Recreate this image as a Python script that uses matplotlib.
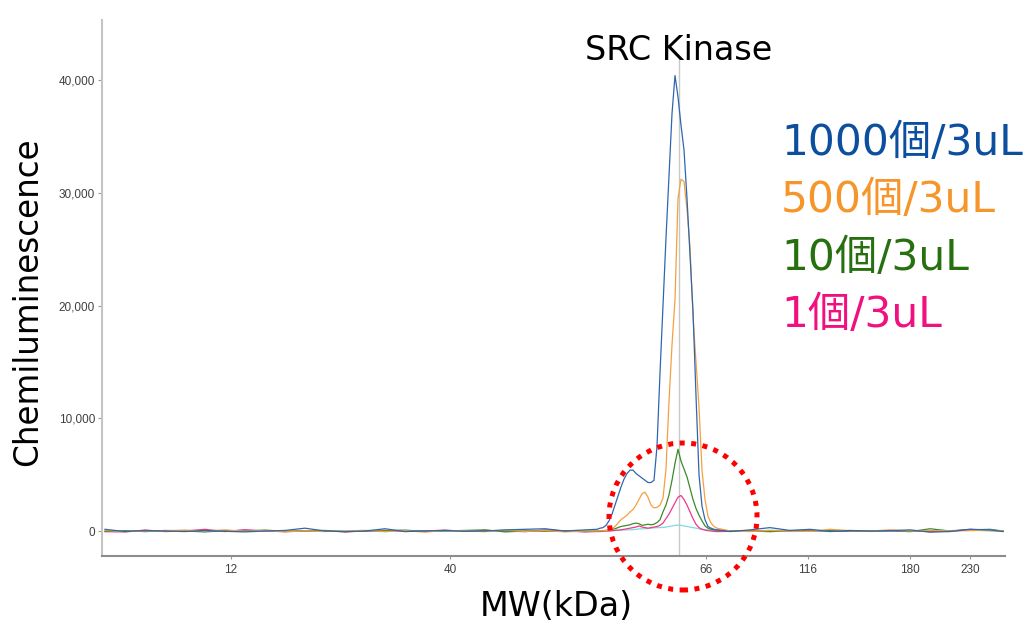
import matplotlib
matplotlib.use("Agg")
import matplotlib.pyplot as plt
from matplotlib.patches import Ellipse

# ---------------- data ----------------
# migration position (arbitrary lane units)
x_left = [105, 125, 145, 165, 185, 205, 225, 245, 265, 285, 305, 325, 345,
          365, 385, 405, 425, 445, 465, 485, 505, 525, 545, 565, 585]
x_peak = [597, 600, 603, 606, 609, 612, 615, 618, 621, 624, 627, 630, 633,
          636, 639, 642, 645, 648, 651, 654, 657, 660, 663, 666, 669, 672,
          675, 678, 681, 684, 687, 690, 693, 696, 699, 702, 705, 708, 711,
          714, 717]
x_right = [730, 750, 770, 790, 810, 830, 850, 870, 890, 910, 930, 950, 970,
           990, 1003]

blue_left = [150, -50, 50, 0, -50, 50, -30, -80, 0, 50, 250, 0, -60, 0, 200,
             -50, 0, 50, -30, 0, 100, 150, 200, 0, 100]
blue_peak = [150, 250, 300, 500, 900, 1500, 2300, 3100, 3900, 4600, 5100,
             5400, 5400, 5100, 4900, 4700, 4500, 4300, 4300, 4500, 7500,
             14000, 20000, 26000, 31500, 37000, 40400, 38500, 36000, 33800,
             29500, 24500, 19500, 12000, 5000, 2200, 1000, 400, 250, 150, 100]
blue_right = [-50, 100, 300, 50, 150, -50, 50, 0, 30, 100, -100, -50, 150,
              100, -50]

orange_left = [50, -50, 0, 30, 80, 0, 100, -30, 50, -80, 20, -30, 0, 60, -50,
               30, -100, 50, 0, -60, 80, -40, 30, -80, 0]
orange_peak = [0, 20, 30, 50, 100, 200, 400, 700, 1000, 1200, 1400, 1700,
               1900, 2300, 2800, 3300, 3450, 3000, 2300, 2050, 2100, 2300,
               2900, 5500, 11500, 16500, 20500, 29500, 31200, 31000, 28500,
               25200, 19000, 15000, 11000, 5400, 2800, 1300, 700, 400, 250]
orange_right = [0, -50, 50, 0, -30, 150, 30, 0, 100, 0, 50, 0, 30, 80, 0]

green_left = [-30, 20, -50, 50, 0, -80, 30, 0, 80, -30, 20, 50, -50, 0, 30,
              80, -40, 0, 50, 100, -80, 0, -30, 20, -50]
green_peak = [0, 0, 20, 50, 100, 150, 200, 300, 400, 450, 500, 550, 650, 700,
              650, 500, 550, 600, 550, 600, 750, 1000, 1700, 2300, 3200, 4500,
              6000, 7250, 6200, 5500, 4800, 3800, 2800, 2000, 1400, 900, 450,
              250, 150, 100, 80]
green_right = [30, 0, -60, 40, 0, 30, 0, -40, 50, -60, 200, 0, 100, 150, 0]

pink_left = [-60, -80, 80, -50, 0, 150, -50, 120, 0, -60, 0, 30, -80, 0, 50,
             -40, 0, 80, -30, 50, 0, -60, 100, 0, -80]
pink_peak = [-50, -50, -30, 0, 0, 20, 50, 80, 100, 150, 200, 250, 300, 350,
             450, 350, 300, 250, 300, 350, 400, 500, 700, 1100, 1500, 2000,
             2500, 3000, 3150, 2800, 2300, 1700, 1100, 600, 300, 150, 80, 30,
             0, -30, -50]
pink_right = [-30, 0, 20, 0, 50, 0, -30, 20, 0, 0, -50, 0, 150, 50, 0]

cyan_left = [0, 30, -50, 0, 40, -40, 0, 60, 0, -30, 0, -50, 30, 0, -60, 20,
             0, 0, 40, -20, 0, 30, 0, 20, 0]
cyan_peak = [0, 0, 0, 20, 30, 40, 50, 60, 80, 90, 100, 100, 120, 150, 180,
             200, 200, 220, 250, 280, 300, 300, 320, 350, 400, 450, 500, 520,
             500, 450, 400, 350, 300, 250, 200, 150, 120, 100, 80, 50, 30]
cyan_right = [0, -20, 60, 30, 100, 0, -20, 30, 0, 20, 0, 30, 80, 0, 0]

legend_labels = ["1000個/3uL", "500個/3uL", "10個/3uL", "1個/3uL"]
x_tick_pos = [231, 450, 706, 808, 910, 970]
x_tick_labels = ["12", "40", "66", "116", "180", "230"]
y_ticks = [0, 10000, 20000, 30000, 40000]
marker_line_x = 679

# ---------------- figure ----------------
W, H = 1031, 627
fig = plt.figure(figsize=(W / 100, H / 100), dpi=100)
ax = fig.add_axes([102 / W, 1 - 556 / H, (1005 - 102) / W, (556 - 20) / H])

x_all = x_left + x_peak + x_right
series = [
    (cyan_left + cyan_peak + cyan_right, "#7fdcdc"),
    (pink_left + pink_peak + pink_right, "#f0388a"),
    (green_left + green_peak + green_right, "#3c8a28"),
    (orange_left + orange_peak + orange_right, "#f5a040"),
    (blue_left + blue_peak + blue_right, "#2f66b0"),
]
for ys, c in series:
    ax.plot(x_all, ys, color=c, lw=0.9, solid_joinstyle="round")

ax.set_xlim(102, 1005)
ax.set_ylim(-2217, 45322)

ax.vlines(marker_line_x, -2217, 41900, color="#c8c8c8", lw=1.0, zorder=0)

tick_font = ["Liberation Sans", "DejaVu Sans"]
ax.set_yticks(y_ticks)
ax.set_yticklabels([f"{v:,}" for v in y_ticks], fontsize=8.5, color="#404040",
                   family=tick_font)
ax.set_xticks(x_tick_pos)
ax.set_xticklabels(x_tick_labels, fontsize=8.5, color="#404040",
                   family=tick_font)
ax.tick_params(axis="y", length=3, width=0.8, color="#999999", pad=2)
ax.tick_params(axis="x", length=2, width=0.8, color="#999999", pad=4)

for s in ["top", "right"]:
    ax.spines[s].set_visible(False)
ax.spines["left"].set_color("#c4c4c4")
ax.spines["left"].set_linewidth(1.5)
ax.spines["bottom"].set_color("#8c8c8c")
ax.spines["bottom"].set_linewidth(1.5)

fam = ["DejaVu Sans", "Noto Sans CJK JP"]

ax.text(marker_line_x, 1 - 30 / 536, "SRC Kinase", transform=ax.get_xaxis_transform(),
        ha="center", va="center", fontsize=24, color="#000000", family=fam)

fig.text(28 / W, 1 - 302 / H, "Chemiluminescence", rotation=90, ha="center",
         va="center", fontsize=23.5, color="#000000", family=fam)
fig.text(556 / W, 1 - 606 / H, "MW(kDa)", ha="center", va="center",
         fontsize=24, color="#000000", family=fam)

legend_colors = ["#0c4f9e", "#f5952a", "#267010", "#f0107f"]
legend_baselines = [155, 212, 270, 327]
for lab, c, yb in zip(legend_labels, legend_colors, legend_baselines):
    fig.text(781 / W, 1 - yb / H, lab, ha="left", va="baseline", fontsize=30.5,
             color=c, family=fam)

circ = Ellipse((683 / W, 1 - 516.5 / H), 148 / W, 147 / H,
               transform=fig.transFigure, fill=False, edgecolor="#ff0000",
               lw=3.6, linestyle=(0, (1, 1.3)), clip_on=False, zorder=10)
circ.set_capstyle("butt")
fig.add_artist(circ)

fig.savefig("out.png", dpi=100)
